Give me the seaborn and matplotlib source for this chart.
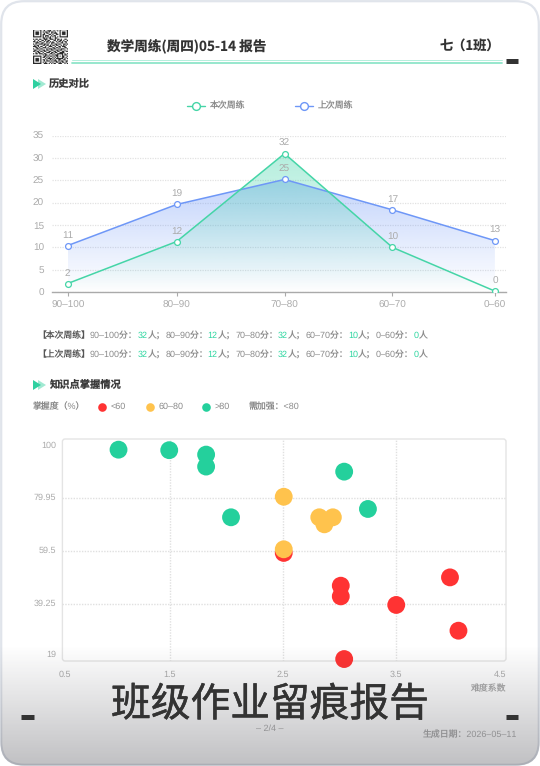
import numpy as np
import pandas as pd
import matplotlib
matplotlib.use('Agg')
import matplotlib.pyplot as plt
import matplotlib.patheffects as pe
from matplotlib.colors import to_rgb
from matplotlib.patches import FancyBboxPatch, Polygon
import seaborn as sns

# line chart
bands = ['90–100', '80–90', '70–80', '60–70', '0–60']
band_x = [0, 1.02, 2.03, 3.04, 4]
this_week = [1.9, 11.3, 31, 10, 0.2]
last_week = [10.4, 19.6, 25.2, 18.4, 11.5]
this_labels = [2, 12, 32, 10, 0]
last_labels = [11, 19, 25, 17, 13]
y_ticks = [0, 5, 10, 15, 20, 25, 30, 35]

# scatter chart
red_x = [2.506, 3.01, 3.01, 3.975, 3.5, 4.05, 3.04]
red_y = [58.7, 46.1, 42.0, 49.3, 38.7, 28.8, 17.9]
orange_x = [2.506, 2.82, 2.94, 2.865, 2.506]
orange_y = [80.3, 72.4, 72.4, 69.7, 60.1]
green_x = [1.046, 1.494, 1.82, 1.82, 2.04, 3.04, 3.25]
green_y = [98.4, 98.2, 96.5, 91.9, 72.4, 89.95, 75.6]
grid_x = [1.5, 2.5, 3.5]
grid_y = [79.95, 59.5, 39.25]

summary_scores = ['90–100分：', '80–90分：', '70–80分：', '60–70分：', '0–60分：']
summary_counts = ['32', '12', '32', '10', '0']

qr_rows = [
    '11111110110100101011001111111', '10000010010011100100101000001',
    '10111010101101011010001011101', '10111010010110010111001011101',
    '10111010110001101001101011101', '10000010101110010110001000001',
    '11111110101010101010101111111', '00000000110101100011000000000',
    '10110110011100111010110100110', '01001001101011000110101101001',
    '11010110010110101001011010110', '00111001100101011100100110010',
    '10100111011010010011011001101', '01011000110110101101100101010',
    '11101011001001110010011011100', '00110100111010001101101000110',
    '10011011000101110110010111001', '01100100110110011001101100100',
    '11011011011001100110110011011', '00101100100111011011001111000',
    '10110111011000110100111110101', '00000000101101001011100010110',
    '11111110011010110101101011001', '10000010110101001010100011010',
    '10111010001011110101111110101', '10111010110100101010011001100',
    '10111010010111010111010110011', '10000010101000101001101011010',
    '11111110011101010110011100101',
]

GREEN = '#45d5a7'
BLUE = '#6e97f7'
DOT_RED = '#ff3333'
DOT_ORANGE = '#ffc34d'
DOT_GREEN = '#24d09c'
GRAY = '#ababab'
TEXT = '#8a8a8a'

sns.set_theme(style='white')
plt.rcParams['font.family'] = ['Liberation Sans', 'Noto Sans CJK SC', 'DejaVu Sans']
plt.rcParams['text.hinting'] = 'no_hinting'
plt.rcParams['text.hinting_factor'] = 1
CJK = ['Noto Sans CJK SC', 'DejaVu Sans']

W, H = 540, 766
fig = plt.figure(figsize=(W / 100, H / 100), dpi=100, facecolor='white')


def px_axes(x0, y0, x1, y1, **kw):
    # axes placed with picture pixels, y going down
    return fig.add_axes([x0 / W, 1 - y1 / H, (x1 - x0) / W, (y1 - y0) / H], **kw)


page = fig.add_axes([0, 0, 1, 1], zorder=0)
page.set_xlim(0, W)
page.set_ylim(H, 0)
page.axis('off')
page.add_patch(FancyBboxPatch((1.2, 1.2), W - 2.4, H - 2.4, boxstyle='round,pad=0,rounding_size=23',
                              fc='white', ec='#e0e4eb', lw=1.6))


def section(y, label):
    page.add_patch(Polygon([(38, y - 5), (38, y + 5), (46, y)], fc=GREEN, alpha=0.5, ec='none'))
    page.add_patch(Polygon([(33, y - 5), (33, y + 5), (41, y)], fc='#2ed0a0', ec='none'))
    page.text(49, y, label, fontsize=7.4, family=CJK, fontweight='bold', color='#3a3a3a', va='center')


def rich(x, y, parts, size=6.35):
    # text pieces in a row, each starts where the one before it ended
    rend = fig.canvas.get_renderer()
    for s, c in parts:
        t = page.text(x, y, s, fontsize=size, color=c, va='center')
        box = t.get_window_extent(rend)
        x += box.width


# header
qr = px_axes(33, 29.5, 68, 64.5)
qr.imshow([[int(c) for c in r.ljust(29, '0')[:29]] for r in qr_rows], cmap='gray_r', vmin=0, vmax=1.2,
          interpolation='bilinear', aspect='auto')
qr.axis('off')
page.text(107, 46, '数学周练(周四)05-14 报告', fontsize=9.8, family=CJK, fontweight='bold', color='#333333', va='center')
page.text(500, 46, '七（1班）', fontsize=9.5, family=CJK, fontweight='bold', color='#333333', va='center', ha='right')
page.plot([72, 502], [60, 60], color='#b5eedc', lw=0.7)
page.plot([72, 502], [62.5, 62.5], color='#8fe5c9', lw=1.3)
page.plot([506, 518], [61, 61], color='#333333', lw=3.6, solid_capstyle='butt')

section(84, '历史对比')
for cx, col, lab in [(196, GREEN, '本次周练'), (304, BLUE, '上次周练')]:
    page.plot([cx - 9, cx + 9], [105.5, 105.5], color=col, lw=1)
    page.plot([cx], [105.5], 'o', ms=5.6, mfc='white', mec=col, mew=1)
    page.text(cx + 14, 105.5, lab, fontsize=6.4, color=TEXT, va='center')

# line chart
ax = px_axes(51.7, 135.7, 506, 292, facecolor='none', zorder=1)


def gradient_fill(x, y, color, alpha_top, y_top):
    poly = ax.fill_between(x, y, 0, color='none')
    grad = np.zeros((256, 1, 4))
    grad[..., :3] = to_rgb(color)
    grad[:, 0, 3] = np.linspace(0, alpha_top, 256)
    im = ax.imshow(grad, extent=[x[0], x[-1], 0, y_top], origin='lower', aspect='auto', zorder=1)
    im.set_clip_path(poly.get_paths()[0], transform=ax.transData)


gradient_fill(band_x, last_week, BLUE, 0.42, 25.2)
gradient_fill(band_x, this_week, '#2ed0a0', 0.36, 31)
for v, col in [(last_week, BLUE), (this_week, GREEN)]:
    sns.lineplot(x=band_x, y=v, ax=ax, color=col, lw=1.1, marker='o', ms=4.2, mfc='white', mec=col, mew=0.9,
                 sort=False, errorbar=None, zorder=3)
for vals, labs in [(last_week, last_labels), (this_week, this_labels)]:
    for xx, v, lab in zip(band_x, vals, labs):
        ax.annotate(str(lab), (xx, v), xytext=(0, 7.4), textcoords='offset points', ha='center', va='center',
                    fontsize=6.9, color=GRAY, zorder=4)
ax.set_xlim(-0.15, 4.104)
ax.set_ylim(0, 35)
ax.set_xticks(band_x, bands)
ax.set_yticks(y_ticks)
ax.grid(axis='y', color='#e2e2e2', ls=(0, (1, 1)), lw=0.9)
ax.set_axisbelow(True)
sns.despine(ax=ax, left=True, top=True, right=True)
ax.spines['bottom'].set_color('#aaaaaa')
ax.spines['bottom'].set_linewidth(1)
ax.tick_params(axis='x', length=3, width=0.8, color='#aaaaaa', labelsize=6.9, labelcolor=GRAY, pad=3, bottom=True)
ax.tick_params(axis='y', length=0, labelsize=6.9, labelcolor=GRAY, pad=5.5)

# summary lines
for y, name in [(336, '【本次周练】'), (355, '【上次周练】')]:
    parts = [(name, '#555555')]
    for i, (s, n) in enumerate(zip(summary_scores, summary_counts)):
        parts += [(s, TEXT), (n, '#2ed6a0'), ('人；' if i < 4 else '人', TEXT)]
    rich(37, y, parts)

section(385, '知识点掌握情况')
page.text(33, 407, '掌握度（%）', fontsize=6.4, color=TEXT, va='center')
for cx, col, lab in [(102, DOT_RED, '<60'), (150, DOT_ORANGE, '60–80'), (206, DOT_GREEN, '>80')]:
    page.plot([cx], [407], 'o', ms=6.2, color=col, mew=0)
    page.text(cx + 9, 407, lab, fontsize=6.6, color=TEXT, va='center')
page.text(249, 407, '需加强：<80', fontsize=6.4, color=TEXT, va='center')

# scatter chart
sc = px_axes(62.4, 439, 506, 661, facecolor='white', zorder=2)
for spine in sc.spines.values():
    spine.set_visible(False)
sc.add_patch(FancyBboxPatch((0, 0), 1, 1, transform=sc.transAxes, boxstyle='round,pad=0,rounding_size=0.006',
                            fc='none', ec='#e4e4e4', lw=1, clip_on=False, mutation_aspect=2))
sc.vlines(grid_x, 17.15, 102.5, color='#e0e0e0', ls=(0, (1, 1)), lw=1)
sc.hlines(grid_y, 0.55, 4.47, color='#e0e0e0', ls=(0, (1, 1)), lw=1)
points = pd.DataFrame({
    'x': red_x + orange_x + green_x,
    'y': red_y + orange_y + green_y,
    'level': ['low'] * len(red_x) + ['mid'] * len(orange_x) + ['high'] * len(green_x),
})
sns.scatterplot(data=points, x='x', y='y', hue='level', ax=sc, s=165, linewidth=0, legend=False, clip_on=False,
                palette={'low': DOT_RED, 'mid': DOT_ORANGE, 'high': DOT_GREEN}, zorder=3)
sc.set_xlim(0.55, 4.47)
sc.set_ylim(17.15, 102.5)
sc.set_xlabel('')
sc.set_ylabel('')
sc.set_xticks([0.57, 1.5, 2.5, 3.5, 4.42], ['0.5', '1.5', '2.5', '3.5', '4.5'])
sc.set_yticks([100.3, 80.4, 60, 39.7, 20], ['100', '79.95', '59.5', '39.25', '19'])
sc.tick_params(axis='both', length=0, labelsize=6.8, labelcolor=GRAY)
sc.tick_params(axis='x', pad=6.5)
sc.tick_params(axis='y', pad=4.5)
page.text(506, 689, '难度系数', fontsize=6.4, color=GRAY, va='center', ha='right')
page.text(270, 729, '– 2/4 –', fontsize=6.2, color=GRAY, va='center', ha='center')
page.text(517, 735, '生成日期：2026–05–11', fontsize=6.4, color=GRAY, va='center', ha='right')

# shade along the bottom, over everything but the caption
top = fig.add_axes([0, 0, 1, 1], zorder=5, facecolor='none')
top.set_xlim(0, W)
top.set_ylim(H, 0)
top.axis('off')
shade = np.zeros((256, 1, 4))
shade[..., :3] = (0.25, 0.25, 0.28)
shade[:, 0, 3] = np.linspace(0, 0.33, 256)
im = top.imshow(shade, extent=[0, W, 766, 645], origin='upper', aspect='auto')
clip = FancyBboxPatch((0.5, 0.5), W - 1, H - 1, boxstyle='round,pad=0,rounding_size=23', transform=top.transData,
                      fc='none', ec='none')
top.add_patch(clip)
im.set_clip_path(clip)
top.set_xlim(0, W)
top.set_ylim(H, 0)
caption = top.text(270, 705, '班级作业留痕报告', fontsize=28.6, family=CJK, color='#333333', va='center', ha='center')
caption.set_path_effects([pe.withStroke(linewidth=0.35, foreground='#333333')])
top.plot([21, 34], [717, 717], color='#333333', lw=3.6, solid_capstyle='butt')
top.plot([506, 518], [717, 717], color='#333333', lw=3.6, solid_capstyle='butt')

fig.savefig('out.png', dpi=100, facecolor=fig.get_facecolor())
